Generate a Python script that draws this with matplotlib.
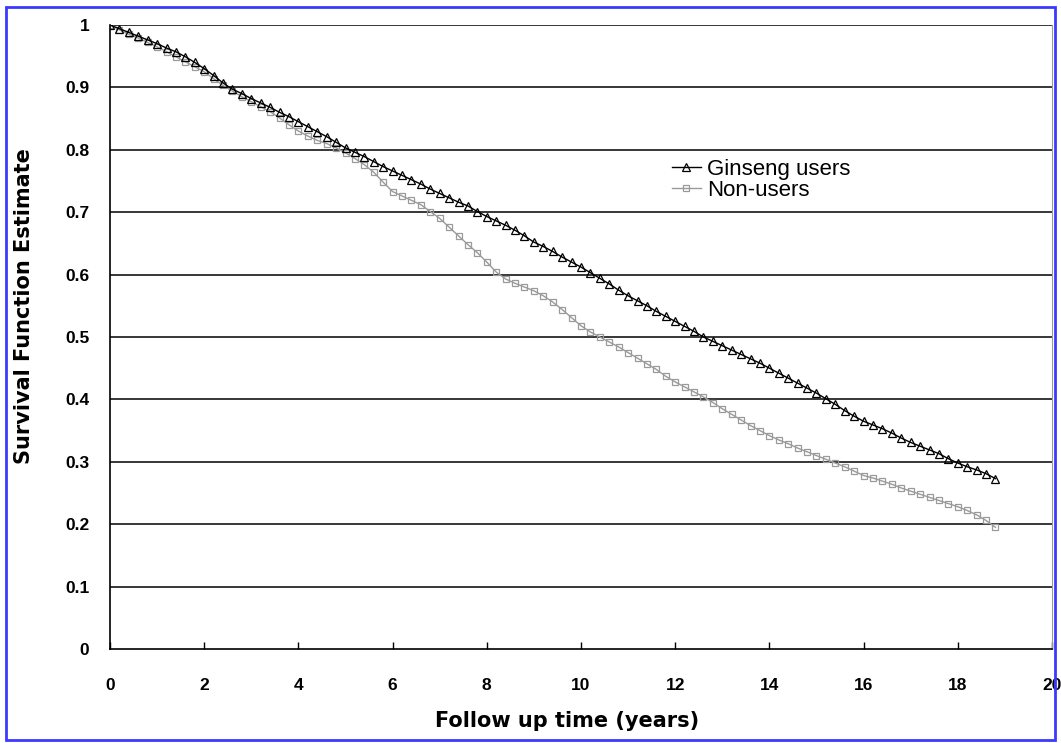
import matplotlib

matplotlib.use("Agg")
import matplotlib.pyplot as plt  # noqa: E402
from matplotlib.patches import Rectangle  # noqa: E402
from matplotlib.ticker import FuncFormatter  # noqa: E402

# follow-up time (years)
years = [
    0.0, 0.2, 0.4, 0.6, 0.8, 1.0, 1.2, 1.4, 1.6, 1.8,
    2.0, 2.2, 2.4, 2.6, 2.8, 3.0, 3.2, 3.4, 3.6, 3.8,
    4.0, 4.2, 4.4, 4.6, 4.8, 5.0, 5.2, 5.4, 5.6, 5.8,
    6.0, 6.2, 6.4, 6.6, 6.8, 7.0, 7.2, 7.4, 7.6, 7.8,
    8.0, 8.2, 8.4, 8.6, 8.8, 9.0, 9.2, 9.4, 9.6, 9.8,
    10.0, 10.2, 10.4, 10.6, 10.8, 11.0, 11.2, 11.4, 11.6, 11.8,
    12.0, 12.2, 12.4, 12.6, 12.8, 13.0, 13.2, 13.4, 13.6, 13.8,
    14.0, 14.2, 14.4, 14.6, 14.8, 15.0, 15.2, 15.4, 15.6, 15.8,
    16.0, 16.2, 16.4, 16.6, 16.8, 17.0, 17.2, 17.4, 17.6, 17.8,
    18.0, 18.2, 18.4, 18.6, 18.8,
]

ginseng = [
    1.000, 0.994, 0.988, 0.982, 0.976, 0.970, 0.963, 0.957, 0.949, 0.940,
    0.930, 0.919, 0.907, 0.897, 0.890, 0.882, 0.875, 0.868, 0.860, 0.853,
    0.845, 0.837, 0.829, 0.821, 0.812, 0.803, 0.796, 0.789, 0.781, 0.773,
    0.766, 0.759, 0.752, 0.745, 0.737, 0.730, 0.723, 0.716, 0.710, 0.701,
    0.693, 0.686, 0.679, 0.671, 0.662, 0.652, 0.645, 0.637, 0.628, 0.620,
    0.612, 0.603, 0.594, 0.585, 0.575, 0.566, 0.558, 0.550, 0.541, 0.533,
    0.525, 0.517, 0.509, 0.500, 0.493, 0.486, 0.479, 0.472, 0.465, 0.458,
    0.450, 0.442, 0.434, 0.426, 0.418, 0.410, 0.401, 0.392, 0.382, 0.373,
    0.365, 0.359, 0.353, 0.346, 0.338, 0.331, 0.325, 0.319, 0.313, 0.305,
    0.298, 0.292, 0.287, 0.281, 0.273,
]

non_users = [
    1.000, 0.992, 0.985, 0.979, 0.972, 0.965, 0.957, 0.949, 0.941, 0.933,
    0.925, 0.914, 0.903, 0.894, 0.885, 0.877, 0.869, 0.861, 0.851, 0.840,
    0.830, 0.822, 0.815, 0.810, 0.803, 0.795, 0.786, 0.776, 0.764, 0.748,
    0.733, 0.726, 0.719, 0.712, 0.701, 0.690, 0.676, 0.662, 0.648, 0.635,
    0.620, 0.604, 0.593, 0.586, 0.580, 0.574, 0.566, 0.556, 0.544, 0.531,
    0.518, 0.508, 0.500, 0.492, 0.484, 0.475, 0.466, 0.457, 0.448, 0.437,
    0.428, 0.420, 0.412, 0.404, 0.395, 0.385, 0.376, 0.367, 0.358, 0.350,
    0.342, 0.335, 0.329, 0.322, 0.316, 0.310, 0.304, 0.298, 0.292, 0.285,
    0.278, 0.274, 0.269, 0.264, 0.258, 0.253, 0.248, 0.243, 0.238, 0.233,
    0.228, 0.222, 0.215, 0.206, 0.195,
]

x_ticks = [0, 2, 4, 6, 8, 10, 12, 14, 16, 18, 20]
y_ticks = [0, 0.1, 0.2, 0.3, 0.4, 0.5, 0.6, 0.7, 0.8, 0.9, 1.0]

plt.rcParams["font.family"] = ["Liberation Sans", "DejaVu Sans"]

fig = plt.figure(figsize=(10.61, 7.43), dpi=100)
ax = fig.add_axes([0.1037, 0.1265, 0.8878, 0.8399])

# blue frame around the whole picture
fig.patches.append(Rectangle((0.006, 0.004), 0.988, 0.986, transform=fig.transFigure,
                             fill=False, edgecolor="#3a3aff", linewidth=2))

for y in y_ticks[1:]:
    ax.axhline(y, color="black", linewidth=1.1, zorder=1)

ax.plot(years, non_users, color="#9a9a9a", linewidth=1,
        marker="s", markersize=4.5, markerfacecolor="none", markeredgewidth=0.9,
        label="Non-users", zorder=2)
ax.plot(years, ginseng, color="black", linewidth=1,
        marker="^", markersize=5.5, markerfacecolor="none", markeredgewidth=0.9,
        label="Ginseng users", zorder=3)

ax.set_xlim(0, 20)
ax.set_ylim(0, 1)
ax.set_xticks(x_ticks)
ax.set_yticks(y_ticks)
ax.yaxis.set_major_formatter(FuncFormatter(lambda v, _: f"{v:g}"))

ax.tick_params(axis="x", direction="in", length=5, width=1, pad=21,
               labelsize=12.5)
ax.tick_params(axis="y", length=0, pad=15, labelsize=12.5)
for lab in ax.get_xticklabels() + ax.get_yticklabels():
    lab.set_fontweight("bold")

ax.spines["top"].set_visible(False)
ax.spines["right"].set_color("#999999")
ax.spines["left"].set_linewidth(1.2)
ax.spines["bottom"].set_linewidth(1.2)

ax.set_xlabel("Follow up time (years)", fontsize=15, fontweight="bold",
              family="DejaVu Sans")
ax.set_ylabel("Survival Function Estimate", fontsize=15, fontweight="bold",
              family="DejaVu Sans")
ax.xaxis.set_label_coords(0.485, -0.1)
ax.yaxis.set_label_coords(-0.081, 0.55)

handles, labels = ax.get_legend_handles_labels()
ax.legend(handles[::-1], labels[::-1], loc="upper left",
          bbox_to_anchor=(0.587, 0.80), frameon=False, fontsize=16,
          handlelength=1.3, handletextpad=0.3, labelspacing=0.0,
          borderaxespad=0)

fig.savefig("out.png", dpi=100)
